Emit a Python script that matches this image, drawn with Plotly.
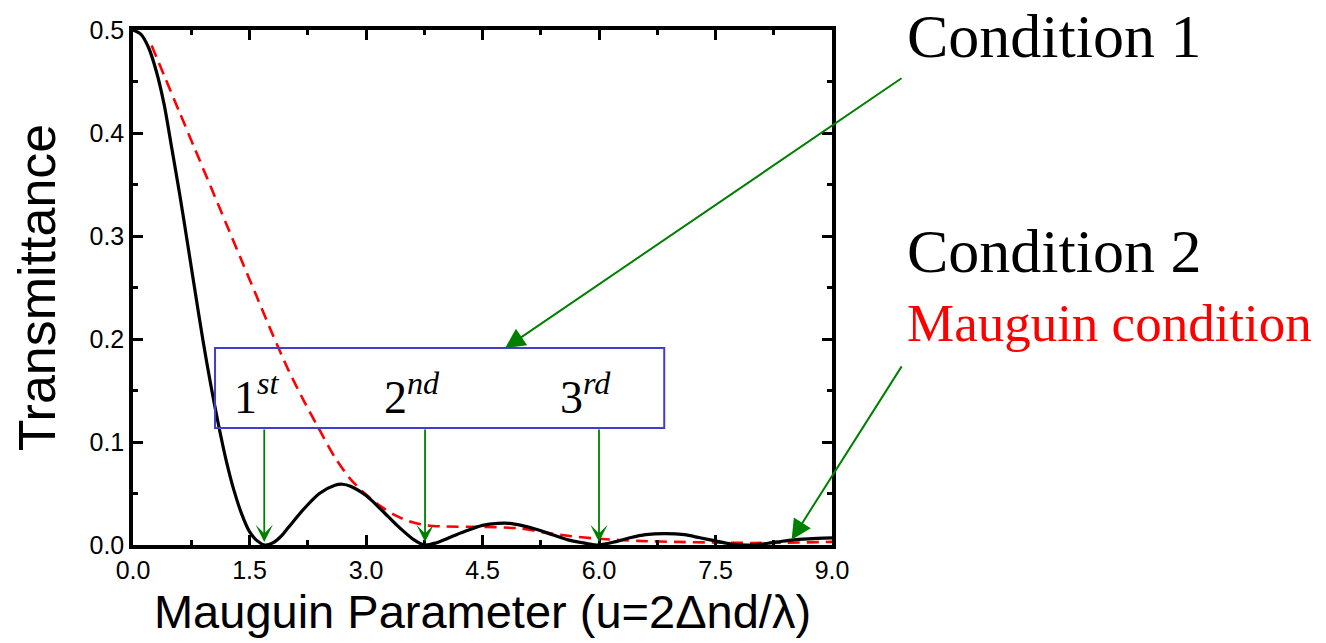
import plotly.graph_objects as go

# ---- data ----
u_black = [0.0, 0.1, 0.2, 0.3, 0.4, 0.5, 0.6, 0.7, 0.8, 0.9, 1.0, 1.1, 1.2, 1.3, 1.4, 1.5,
           1.6, 1.7, 1.8, 1.9, 2.0, 2.2, 2.4, 2.6, 2.7, 2.8, 3.0, 3.2, 3.4, 3.6, 3.75,
           3.9, 4.1, 4.3, 4.5, 4.7, 4.85, 5.0, 5.2, 5.4, 5.6, 5.8, 5.97, 6.2, 6.4, 6.6,
           6.85, 7.1, 7.3, 7.5, 7.7, 7.9, 8.1, 8.3, 8.5, 8.7, 9.0]
t_black = [0.500, 0.496, 0.483, 0.460, 0.428, 0.385, 0.341, 0.294, 0.246, 0.199, 0.156,
           0.117, 0.082, 0.053, 0.030, 0.013, 0.004, 0.000, 0.002, 0.008, 0.017, 0.035,
           0.050, 0.058, 0.059, 0.057, 0.048, 0.034, 0.019, 0.006, 0.000, 0.002, 0.008,
           0.014, 0.019, 0.021, 0.021, 0.019, 0.015, 0.010, 0.005, 0.002, 0.000, 0.003,
           0.007, 0.010, 0.011, 0.010, 0.007, 0.004, 0.001, 0.000, 0.001, 0.003, 0.005,
           0.006, 0.007]

u_red = [0.24, 0.4, 0.6, 0.8, 1.0, 1.2, 1.4, 1.6, 1.8, 2.0, 2.2, 2.4, 2.6, 2.8, 3.0,
         3.2, 3.4, 3.6, 3.8, 4.0, 4.5, 5.0, 5.3, 5.6, 6.0, 6.5, 7.0, 8.0, 9.0]
t_red = [0.485, 0.456, 0.420, 0.384, 0.348, 0.312, 0.276, 0.240, 0.204, 0.170, 0.140,
         0.112, 0.085, 0.064, 0.049, 0.037, 0.028, 0.022, 0.019, 0.018, 0.0175, 0.016,
         0.012, 0.009, 0.006, 0.004, 0.003, 0.002, 0.003]

x_tickvals = [0.0, 1.5, 3.0, 4.5, 6.0, 7.5, 9.0]
x_ticktext = ["0.0", "1.5", "3.0", "4.5", "6.0", "7.5", "9.0"]
y_tickvals = [0.0, 0.1, 0.2, 0.3, 0.4, 0.5]
y_ticktext = ["0.0", "0.1", "0.2", "0.3", "0.4", "0.5"]

order_labels = ["1<sup><i>st</i></sup>", "2<sup><i>nd</i></sup>", "3<sup><i>rd</i></sup>"]
order_label_u = [1.60, 3.59, 5.83]
minima_u = [1.69, 3.76, 6.0]

fig = go.Figure()
fig.add_trace(go.Scatter(x=u_red, y=t_red, mode="lines",
                         line=dict(color="#FF0000", width=2.6, dash="12px,7px", shape="spline",
                                   smoothing=0.8),
                         showlegend=False))
fig.add_trace(go.Scatter(x=u_black, y=t_black, mode="lines",
                         line=dict(color="black", width=3.2, shape="spline", smoothing=0.8),
                         showlegend=False))

sans = "Liberation Sans, Arial, sans-serif"
serif = "Liberation Serif, Times New Roman, serif"

axis_common = dict(showline=True, linewidth=3.5, linecolor="black", mirror="allticks",
                   ticks="inside", ticklen=10, tickwidth=2.5, tickcolor="black",
                   showgrid=False, zeroline=False, automargin=False,
                   tickfont=dict(family=sans, size=25, color="black"))

fig.update_xaxes(range=[0, 9], tickvals=x_tickvals, ticktext=x_ticktext,
                 minor=dict(dtick=0.75, ticks="inside", ticklen=5, tickwidth=2.5, tickcolor="black"),
                 title=dict(text="Mauguin Parameter (u=2Δnd/λ)",
                            font=dict(family=sans, size=47, color="black"), standoff=13),
                 **axis_common)
fig.update_yaxes(range=[0, 0.5], tickvals=y_tickvals, ticktext=y_ticktext,
                 minor=dict(dtick=0.05, ticks="inside", ticklen=5, tickwidth=2.5, tickcolor="black"),
                 title=dict(text="Transmittance",
                            font=dict(family=sans, size=52, color="black"), standoff=20),
                 **axis_common)

# box around the order labels
fig.add_shape(type="rect", xref="x", yref="y", x0=1.056, x1=6.84, y0=0.1136, y1=0.1913,
              line=dict(color="#3F3FCF", width=2), fillcolor="rgba(0,0,0,0)")

annotations = []
for lab, ux in zip(order_labels, order_label_u):
    annotations.append(dict(x=ux, y=0.147, xref="x", yref="y", text=lab, showarrow=False,
                            font=dict(family=serif, size=46, color="black"),
                            xanchor="center", yanchor="middle"))
for ux in minima_u:
    annotations.append(dict(x=ux, y=0.003, xref="x", yref="y", text="", showarrow=True,
                            ax=ux, ay=0.1136, axref="x", ayref="y",
                            arrowhead=3, arrowsize=1.6, arrowwidth=1.8, arrowcolor="#008000"))
# condition arrows
annotations.append(dict(x=4.79, y=0.191, xref="x", yref="y", text="", showarrow=True,
                        ax=398, ay=-271, arrowhead=2, arrowsize=2, arrowwidth=2,
                        arrowcolor="#008000"))
annotations.append(dict(x=8.48, y=0.005, xref="x", yref="y", text="", showarrow=True,
                        ax=111, ay=-175, arrowhead=2, arrowsize=2, arrowwidth=2,
                        arrowcolor="#008000"))
# condition texts
annotations.append(dict(x=1.1044, y=0.989, xref="paper", yref="paper", text="Condition 1",
                        showarrow=False, xanchor="left", yanchor="middle",
                        font=dict(family=serif, size=62, color="black")))
annotations.append(dict(x=1.1044, y=0.571, xref="paper", yref="paper", text="Condition 2",
                        showarrow=False, xanchor="left", yanchor="middle",
                        font=dict(family=serif, size=62, color="black")))
annotations.append(dict(x=1.1044, y=0.431, xref="paper", yref="paper", text="Mauguin condition",
                        showarrow=False, xanchor="left", yanchor="middle",
                        font=dict(family=serif, size=53, color="#FF0000")))

# the page body adds an 8px margin, so the figure is 8px smaller than the window
fig.update_layout(width=1318, height=635, autosize=False,
                  margin=dict(l=125, r=494, t=22, b=98, pad=0),
                  plot_bgcolor="white", paper_bgcolor="white",
                  annotations=annotations, showlegend=False)

fig.write_html("out.html")
